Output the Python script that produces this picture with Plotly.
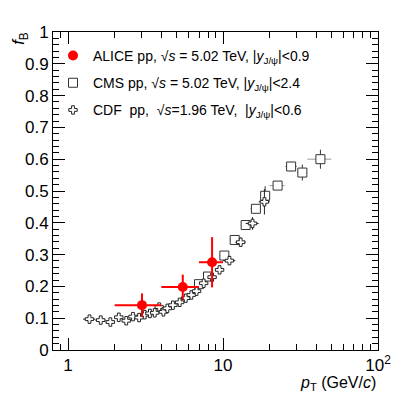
import plotly.graph_objects as go

# ALICE pp 5.02 TeV, |y|<0.9
alice_pt = [3.0, 5.5, 8.5]
alice_lo = [2.0, 4.0, 7.0]
alice_hi = [4.0, 7.0, 10.0]
alice_fb = [0.141, 0.198, 0.276]
alice_err = [0.037, 0.039, 0.079]

# CMS pp 5.02 TeV, |y|<2.4
cms_pt = [7.0, 8.0, 10.2, 11.9, 14.0, 16.3, 18.7, 22.5, 27.5, 32.5, 42.5]
cms_lo = [6.5, 7.5, 9.5, 11.0, 13.0, 15.0, 17.5, 20.0, 25.0, 30.0, 35.0]
cms_hi = [7.5, 8.5, 11.0, 13.0, 15.0, 17.5, 20.0, 25.0, 30.0, 35.0, 50.0]
cms_fb = [0.207, 0.231, 0.297, 0.346, 0.393, 0.444, 0.485, 0.517, 0.577, 0.558, 0.600]
cms_err = [0.006, 0.007, 0.009, 0.010, 0.011, 0.012, 0.030, 0.010, 0.015, 0.025, 0.030]

# CDF ppbar 1.96 TeV, |y|<0.6
cdf_pt = [1.375, 1.625, 1.875, 2.125, 2.375, 2.625, 2.875, 3.125, 3.375, 3.625, 3.875,
          4.125, 4.375, 4.75, 5.25, 5.75, 6.25, 6.75, 7.5, 8.5, 9.5, 11.0, 13.0, 15.5, 18.5]
cdf_lo = [1.25, 1.5, 1.75, 2.0, 2.25, 2.5, 2.75, 3.0, 3.25, 3.5, 3.75,
          4.0, 4.25, 4.5, 5.0, 5.5, 6.0, 6.5, 7.0, 8.0, 9.0, 10.0, 12.0, 14.0, 17.0]
cdf_hi = [1.5, 1.75, 2.0, 2.25, 2.5, 2.75, 3.0, 3.25, 3.5, 3.75, 4.0,
          4.25, 4.5, 5.0, 5.5, 6.0, 6.5, 7.0, 8.0, 9.0, 10.0, 12.0, 14.0, 17.0, 20.0]
cdf_fb = [0.097, 0.094, 0.088, 0.103, 0.092, 0.105, 0.102, 0.111, 0.115, 0.117, 0.135,
          0.120, 0.131, 0.141, 0.150, 0.163, 0.173, 0.185, 0.210, 0.229, 0.252, 0.281,
          0.339, 0.398, 0.466]
cdf_err = [0.006, 0.004, 0.004, 0.004, 0.004, 0.004, 0.004, 0.004, 0.004, 0.004, 0.005,
           0.005, 0.005, 0.005, 0.005, 0.006, 0.006, 0.007, 0.007, 0.008, 0.010, 0.012,
           0.015, 0.020, 0.040]


def xerr(pt, lo, hi):
    return dict(type="data", symmetric=False,
                array=[h - p for p, h in zip(pt, hi)],
                arrayminus=[p - l for p, l in zip(pt, lo)])


FONT = "Liberation Sans, Arial, sans-serif"

fig = go.Figure()

fig.add_trace(go.Scatter(
    x=cms_pt, y=cms_fb, mode="markers", legendrank=2, legendgroup="cms",
    name="CMS pp, √<i>s</i> = 5.02 TeV, |<i>y</i><sub>J/ψ</sub>|&lt;2.4",
    marker=dict(symbol="square", size=9, color="white", line=dict(width=1, color="#333333")),
    error_x=dict(xerr(cms_pt, cms_lo, cms_hi), color="#999999", thickness=1, width=0),
    error_y=dict(type="data", array=cms_err, color="#333333", thickness=1, width=0),
))
fig.add_trace(go.Scatter(
    x=cdf_pt, y=cdf_fb, mode="markers", legendrank=3, legendgroup="cdf",
    name="CDF  pp,  √<i>s</i>=1.96 TeV,  |<i>y</i><sub>J/ψ</sub>|&lt;0.6",
    marker=dict(symbol="cross", size=7, color="white", line=dict(width=1, color="#222222")),
    error_x=dict(xerr(cdf_pt, cdf_lo, cdf_hi), color="#222222", thickness=1, width=0),
    error_y=dict(type="data", array=cdf_err, color="#222222", thickness=1, width=0),
))
fig.add_trace(go.Scatter(
    x=alice_pt, y=alice_fb, mode="markers", legendrank=1, legendgroup="alice",
    name="ALICE pp, √<i>s</i> = 5.02 TeV, |<i>y</i><sub>J/ψ</sub>|&lt;0.9",
    marker=dict(symbol="circle", size=10, color="#ff0000"),
    error_x=dict(xerr(alice_pt, alice_lo, alice_hi), color="#ff0000", thickness=2, width=0),
    error_y=dict(type="data", array=alice_err, color="#ff0000", thickness=2, width=0),
))

axis_font = dict(family=FONT, size=17, color="black")

fig.update_xaxes(
    type="log", range=[-0.097, 2.0], automargin=False,
    tickvals=[1, 10, 100], ticktext=["1", "10", "10<sup>2</sup>"],
    ticks="inside", ticklen=12, tickcolor="black", mirror="allticks",
    showline=True, linecolor="black", linewidth=1, showgrid=False, zeroline=False,
    tickfont=axis_font, ticklabelstandoff=0,
    minor=dict(tickvals=[0.9, 2, 3, 4, 5, 6, 7, 8, 9, 20, 30, 40, 50, 60, 70, 80, 90],
               ticks="inside", ticklen=6, tickcolor="black", showgrid=False),
)
fig.update_yaxes(
    range=[0, 1], dtick=0.1, automargin=False,
    ticks="inside", ticklen=12, tickcolor="black", mirror="allticks",
    showline=True, linecolor="black", linewidth=1, showgrid=False, zeroline=False,
    tickfont=axis_font,
    minor=dict(dtick=0.02, ticks="inside", ticklen=6, tickcolor="black", showgrid=False),
)

fig.add_annotation(
    text="<i>f</i><sub>B</sub>", xref="paper", yref="paper", x=-0.1, y=0.98,
    textangle=-90, showarrow=False, xanchor="center", yanchor="middle",
    font=dict(family=FONT, size=17, color="black"),
)
fig.add_annotation(
    text="<i>p</i><sub>T</sub> (GeV/<i>c</i>)", xref="paper", yref="paper", x=1.0, y=-0.105,
    showarrow=False, xanchor="right", yanchor="middle",
    font=dict(family=FONT, size=16, color="black"),
)

fig.update_layout(
    width=407, height=397,
    margin=dict(l=53, r=29, t=32, b=47),
    plot_bgcolor="white", paper_bgcolor="white",
    showlegend=True,
    legend=dict(x=0.0, y=0.975, xanchor="left", yanchor="top", bgcolor="rgba(0,0,0,0)",
                font=dict(family=FONT, size=14, color="black"),
                tracegroupgap=6, itemwidth=30),
)

# the page body has an 8px default margin; drop it so the figure sits at (0, 0)
fig.write_html("out.html", config={"displayModeBar": False},
               post_script="document.body.style.margin='0';")
